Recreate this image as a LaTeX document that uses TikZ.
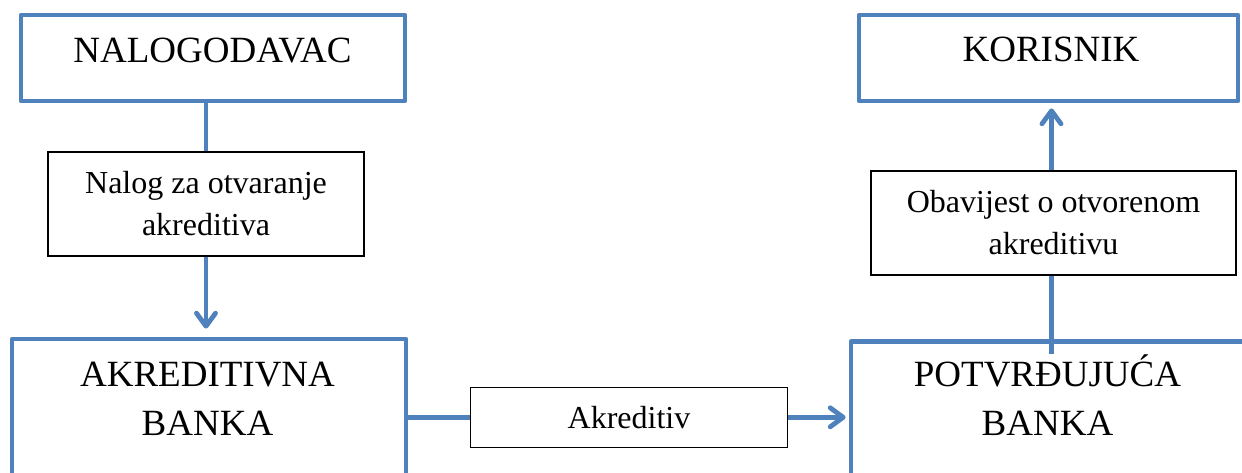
\documentclass[tikz,border=0pt]{standalone}
\usepackage{fontspec}
\setmainfont{Liberation Serif}
\usetikzlibrary{arrows.meta}
\definecolor{ofblue}{HTML}{4F81BD}
\tikzset{
  bigbox/.style={draw=ofblue, line width=4.8pt, fill=white, inner sep=0pt, line join=round},
  lblbox/.style={draw=black, line width=1.3pt, fill=white, inner sep=0pt, align=center,
                 font=\fontsize{32}{42}\selectfont},
  bigtext/.style={inner sep=0pt, align=center, font=\fontsize{37}{49}\selectfont},
  conn/.style={draw=ofblue, line width=4.8pt},
  arr/.style={conn, -{Straight Barb[length=13pt, width=19pt, round]}}
}
\begin{document}
\begin{tikzpicture}[x=1pt, y=-1pt]
\useasboundingbox (0,0) rectangle (1242,472);
\clip (0,0) rectangle (1242,472);
\fill[white] (0,0) rectangle (1242,472);

% main boxes
\node[bigbox, minimum width=384pt, minimum height=86pt] (nal) at (213,58) {};
\node[bigbox, minimum width=379pt, minimum height=86pt] (kor) at (1048.5,58) {};
\node[bigbox, minimum width=394pt, minimum height=161pt] (akb) at (209,419.5) {};
\node[bigbox, minimum width=439pt, minimum height=158pt] (pb) at (1070.5,420.8) {};

% texts of main boxes
\node[bigtext, anchor=base] (naltxt) at (212.5,62) {NALOGODAVAC};
\node[bigtext, anchor=base] (kortxt) at (1051,61) {KORISNIK};
\node[bigtext] (akbtxt) at (207.5,398.5) {AKREDITIVNA\\BANKA};
\node[bigtext] (pbtxt) at (1047.5,395.5) {POTVRĐUJUĆA\\BANKA};

% label boxes
\node[lblbox, minimum width=316pt, minimum height=104pt] (nalog) at (206,204) {Nalog za otvaranje\\akreditiva};
\node[lblbox, minimum width=365pt, minimum height=104pt] (obav) at (1053.5,223) {Obavijest o otvorenom\\akreditivu};
\node[lblbox, minimum width=316.6pt, minimum height=60pt] (akred) at (629,417.3) {Akreditiv};

\coordinate (pin) at (1051.5,354);

% connectors
\draw[conn] (nalog.north |- nal.south) -- (nalog.north);
\draw[arr, shorten >=8pt] (nalog.south) -- (nalog.south |- akb.north);
\draw[conn] (akred.west -| akb.east) -- (akred.west);
\draw[arr, shorten >=3pt] (akred.east) -- (akred.east -| pb.west);
\draw[conn] (pin) -- (pin |- obav.south);
\draw[arr, shorten >=5pt] (pin |- obav.north) -- (pin |- kor.south);
\end{tikzpicture}
\end{document}
